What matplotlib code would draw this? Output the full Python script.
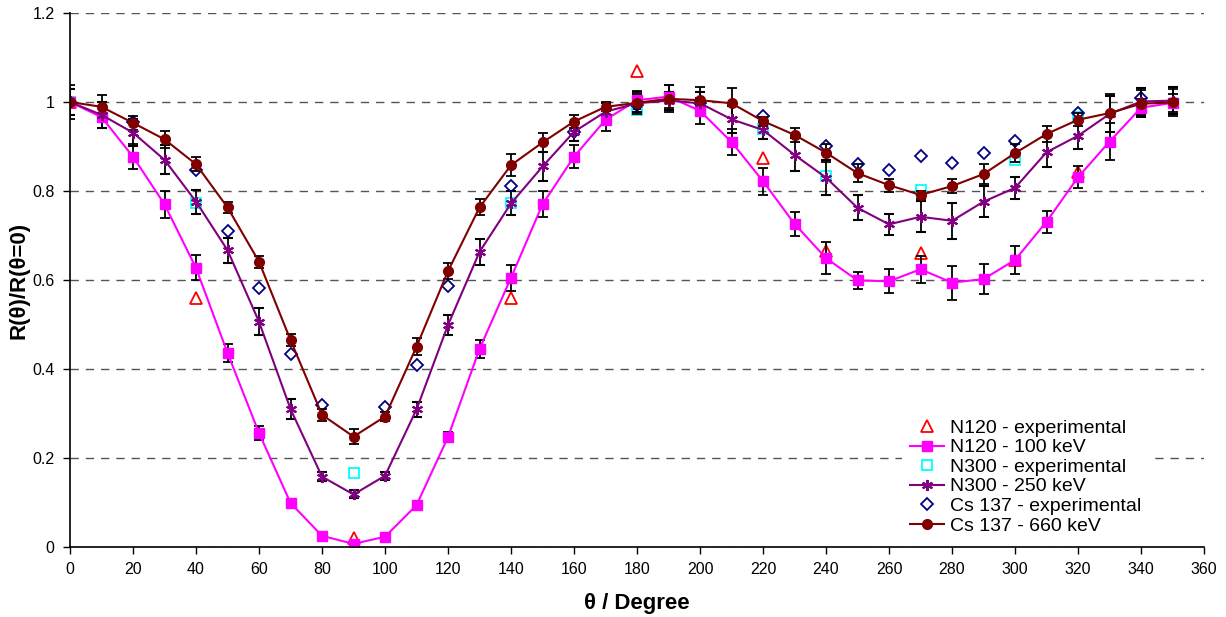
import matplotlib
matplotlib.use('Agg')
import matplotlib.pyplot as plt
import numpy as np

plt.rcParams['font.family'] = ['Liberation Sans', 'DejaVu Sans']

# angle grid for the simulated curves
angles = list(range(0, 360, 10))

n120_sim = [1.0, 0.966, 0.877, 0.77, 0.627, 0.436, 0.256, 0.099, 0.025, 0.007,
            0.023, 0.094, 0.247, 0.445, 0.605, 0.77, 0.877, 0.96, 1.004, 1.012,
            0.98, 0.91, 0.822, 0.726, 0.649, 0.599, 0.597, 0.624, 0.594, 0.602,
            0.645, 0.731, 0.831, 0.911, 0.987, 0.998]
n120_err = [0.03, 0.025, 0.028, 0.03, 0.028, 0.02, 0.015, 0.008, 0.006, 0.005,
            0.006, 0.01, 0.011, 0.021, 0.029, 0.029, 0.026, 0.026, 0.02, 0.025,
            0.03, 0.03, 0.03, 0.027, 0.036, 0.02, 0.027, 0.03, 0.038, 0.034,
            0.032, 0.025, 0.024, 0.041, 0.02, 0.02]

n300_sim = [1.0, 0.971, 0.931, 0.870, 0.776, 0.667, 0.506, 0.310, 0.158, 0.118,
            0.160, 0.309, 0.499, 0.663, 0.772, 0.855, 0.933, 0.978, 0.997, 1.003,
            0.997, 0.961, 0.937, 0.881, 0.830, 0.762, 0.725, 0.742, 0.733, 0.776,
            0.807, 0.887, 0.924, 0.973, 1.001, 1.003]
n300_err = [0.03, 0.03, 0.03, 0.033, 0.027, 0.028, 0.03, 0.022, 0.01, 0.009,
            0.009, 0.016, 0.022, 0.029, 0.027, 0.033, 0.02, 0.02, 0.02, 0.02,
            0.025, 0.03, 0.02, 0.037, 0.04, 0.028, 0.024, 0.035, 0.04, 0.035,
            0.025, 0.034, 0.03, 0.04, 0.03, 0.03]

cs_sim = [1.0, 0.989, 0.953, 0.916, 0.860, 0.763, 0.641, 0.465, 0.297, 0.248,
          0.293, 0.450, 0.620, 0.763, 0.858, 0.909, 0.956, 0.989, 0.998, 1.007,
          1.004, 0.997, 0.957, 0.926, 0.886, 0.840, 0.813, 0.791, 0.811, 0.838,
          0.885, 0.928, 0.960, 0.975, 0.996, 0.999]
cs_err = [0.038, 0.027, 0.015, 0.019, 0.016, 0.013, 0.013, 0.013, 0.013, 0.016,
          0.01, 0.019, 0.018, 0.018, 0.024, 0.022, 0.015, 0.01, 0.025, 0.03,
          0.03, 0.034, 0.01, 0.015, 0.02, 0.02, 0.015, 0.01, 0.015, 0.022,
          0.02, 0.019, 0.015, 0.042, 0.03, 0.03]

# experimental points
n120_exp_x = [0, 40, 90, 140, 180, 220, 240, 270, 300, 320]
n120_exp_y = [1.0, 0.56, 0.02, 0.56, 1.07, 0.875, 0.664, 0.66, 0.645, 0.843]
n300_exp_x = [0, 40, 90, 140, 180, 220, 240, 270, 300, 320]
n300_exp_y = [1.0, 0.774, 0.167, 0.774, 0.982, 0.939, 0.834, 0.802, 0.87, 0.967]
cs_exp_x = [0, 20, 40, 50, 60, 70, 80, 100, 110, 120, 140, 160, 180, 200,
            220, 240, 250, 260, 270, 280, 290, 300, 320, 340]
cs_exp_y = [1.0, 0.956, 0.847, 0.711, 0.581, 0.434, 0.318, 0.315, 0.41, 0.587,
            0.811, 0.933, 0.993, 0.997, 0.969, 0.901, 0.861, 0.846, 0.879, 0.862,
            0.885, 0.912, 0.976, 1.008]

fig = plt.figure(figsize=(12.26, 6.17), dpi=100)
ax = fig.add_axes([0.0571, 0.1135, 0.925, 0.8655])

ebkw = dict(ecolor='black', elinewidth=1.3, capsize=3.5, capthick=1.3)

h1, = ax.plot(n120_exp_x, n120_exp_y, linestyle='none', marker='^', ms=8,
              mfc='none', mec='#FF0000', mew=1.3)
h2 = ax.errorbar(angles, n120_sim, yerr=n120_err, color='#FF00FF', lw=1.5,
                 marker='s', ms=7.5, mec='#FF00FF', **ebkw)
h3, = ax.plot(n300_exp_x, n300_exp_y, linestyle='none', marker='s', ms=7.5,
              mfc='none', mec='#00FFFF', mew=1.3)
h4 = ax.errorbar(angles, n300_sim, yerr=n300_err, color='#800080', lw=1.5,
                 marker=(6, 2, 0), ms=8, mew=1.5, **ebkw)
h5, = ax.plot(cs_exp_x, cs_exp_y, linestyle='none', marker='D', ms=6.5,
              mfc='none', mec='#000080', mew=1.3)
h6 = ax.errorbar(angles, cs_sim, yerr=cs_err, color='#800000', lw=1.5,
                 marker='o', ms=7, **ebkw)

ax.set_xlim(0, 360)
ax.set_ylim(0, 1.2)
ax.set_xticks(np.arange(0, 361, 20))
ax.set_yticks([0, 0.2, 0.4, 0.6, 0.8, 1.0, 1.2])
ax.set_yticklabels(['0', '0.2', '0.4', '0.6', '0.8', '1', '1.2'])
ax.tick_params(labelsize=11.5, direction='out', length=5, width=1, pad=6)
ax.yaxis.grid(True, linestyle=(0, (6, 5)), color='#555555', lw=1)
ax.set_axisbelow(True)
for s in ['top', 'right']:
    ax.spines[s].set_visible(False)
for s in ['left', 'bottom']:
    ax.spines[s].set_linewidth(1.2)

ax.set_xlabel('θ / Degree', fontsize=16, fontweight='bold', labelpad=11)
ax.set_ylabel('R(θ)/R(θ=0)', fontsize=16, fontweight='bold', labelpad=2)

labels = ['N120 - experimental', 'N120 - 100 keV', 'N300 - experimental',
          'N300 - 250 keV', 'Cs 137 - experimental', 'Cs 137 - 660 keV']
handles = [h1, h2[0], h3, h4[0], h5, h6[0]]
leg = ax.legend(handles, labels,
                loc='upper left', bbox_to_anchor=(0.725, 0.272), fontsize=14,
                frameon=True, fancybox=False, edgecolor='none', framealpha=1,
                labelspacing=0.1, handlelength=1.75, handletextpad=0.3,
                borderpad=0.4)

fig.savefig('out.png', dpi=100)
